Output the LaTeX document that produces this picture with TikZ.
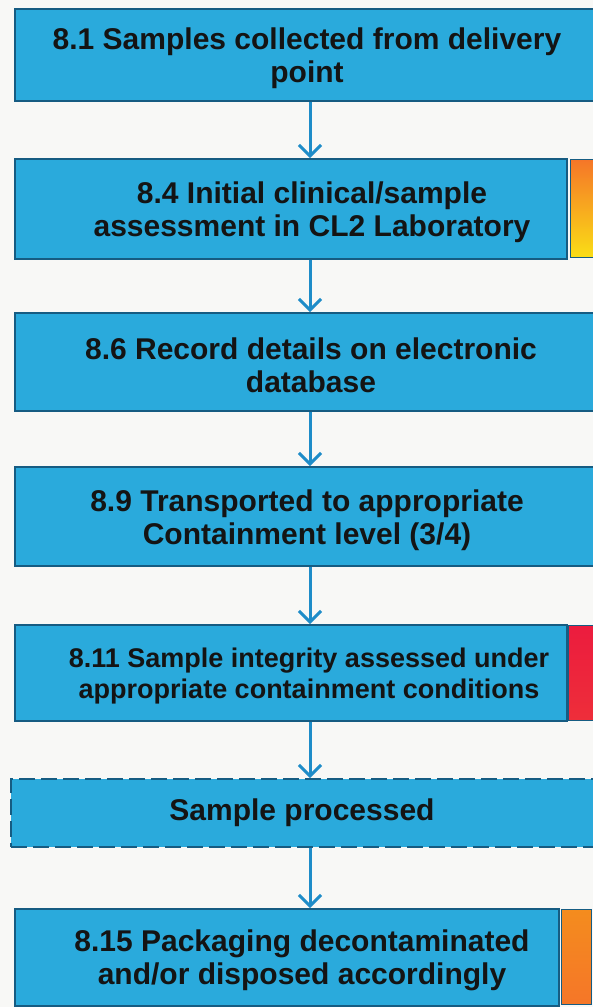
\documentclass[tikz,border=0pt]{standalone}
\usepackage{xcolor}
\usepackage{fontspec}
\setmainfont{Liberation Sans}
\usepackage{tikz}
\usetikzlibrary{calc}
\usetikzlibrary{arrows.meta}

\definecolor{paper}{RGB}{248,248,246}
\definecolor{boxblue}{RGB}{42,170,220}
\definecolor{boxedge}{RGB}{22,92,130}
\definecolor{arrowblue}{RGB}{30,140,200}
\definecolor{riskred}{RGB}{236,28,62}
\definecolor{riskorange}{RGB}{245,118,40}
\definecolor{riskamber}{RGB}{244,140,30}
\definecolor{riskyellow}{RGB}{250,222,22}

\tikzset{
  stepfill/.style={draw=boxedge, line width=1.8pt, fill=boxblue, inner sep=0pt, anchor=north west},
  steptext/.style={font=\bfseries\fontsize{30}{33}\selectfont, align=center, text=black!92, inner sep=0pt},
  flowarrow/.style={draw=arrowblue, line width=3pt, -{Straight Barb[length=11pt,width=22pt,line width=3pt]}},
  riskbar/.style={draw=boxedge, line width=1.2pt, inner sep=0pt, anchor=north west}
}

\begin{document}
\begin{tikzpicture}[x=1pt,y=-1pt]
                \useasboundingbox (0,0) rectangle (593,1007);
                \clip (0,0) rectangle (593,1007);
                \fill[paper] (0,0) rectangle (593,1007);
                \coordinate (spine) at (310,0);

                % Drawing step 8.1
                \node[stepfill, minimum width=590pt, minimum height=92pt] (box1) at (14,8) {};%
                \node[steptext] (lab1) at (307,58) {8.1 Samples collected from delivery\\point};%

                % Drawing step 8.4
                \node[stepfill, minimum width=552pt, minimum height=100pt] (box2) at (14,158) {};%
                \node[steptext] (lab2) at (312,212) {8.4 Initial clinical/sample\\assessment in CL2 Laboratory};%
                \node[riskbar, minimum width=30pt, minimum height=98pt,
                      top color=riskorange, middle color=riskyellow, bottom color=riskyellow] (bar2) at (570,159) {};%

                % Drawing step 8.6
                \node[stepfill, minimum width=590pt, minimum height=98pt] (box3) at (14,312) {};%
                \node[steptext] (lab3) at (311,365) {8.6 Record details on electronic\\database};%

                % Drawing step 8.9
                \node[stepfill, minimum width=590pt, minimum height=99pt] (box4) at (14,466) {};%
                \node[steptext] (lab4) at (307,520) {8.9 Transported to appropriate\\Containment level (3/4)};%

                % Drawing step 8.11
                \node[stepfill, minimum width=552pt, minimum height=96pt] (box5) at (14,624) {};%
                \node[steptext, font=\bfseries\fontsize{27}{31}\selectfont] (lab5) at (309,676) {8.11 Sample integrity assessed under\\appropriate containment conditions};%
                \node[riskbar, minimum width=30pt, minimum height=95pt,
                      top color=riskred, middle color=riskorange, bottom color=riskred!80!riskorange] (bar5) at (568,625) {};%

                % Drawing processing step (dashed)
                \node[stepfill, dashed, dash pattern=on 16pt off 6pt, minimum width=594pt, minimum height=68pt] (box6) at (10,778) {};%
                \node[steptext] (lab6) at (302,813) {Sample processed};%

                % Drawing step 8.15
                \node[stepfill, minimum width=544pt, minimum height=97pt] (box7) at (14,908) {};%
                \node[steptext] (lab7) at (302,960) {8.15 Packaging decontaminated\\and/or disposed accordingly};%
                \node[riskbar, minimum width=30pt, minimum height=95pt,
                      top color=riskamber, middle color=riskorange!70!riskyellow, bottom color=riskorange] (bar7) at (561,909) {};%

                % Drawing arrows between steps
                \draw[flowarrow] (box1.south -| spine) -- (box2.north -| spine);%
                \draw[flowarrow] (box2.south -| spine) -- (box3.north -| spine);%
                \draw[flowarrow] (box3.south -| spine) -- (box4.north -| spine);%
                \draw[flowarrow] (box4.south -| spine) -- (box5.north -| spine);%
                \draw[flowarrow] (box5.south -| spine) -- (box6.north -| spine);%
                \draw[flowarrow] (box6.south -| spine) -- (box7.north -| spine);%
\end{tikzpicture}
\end{document}
